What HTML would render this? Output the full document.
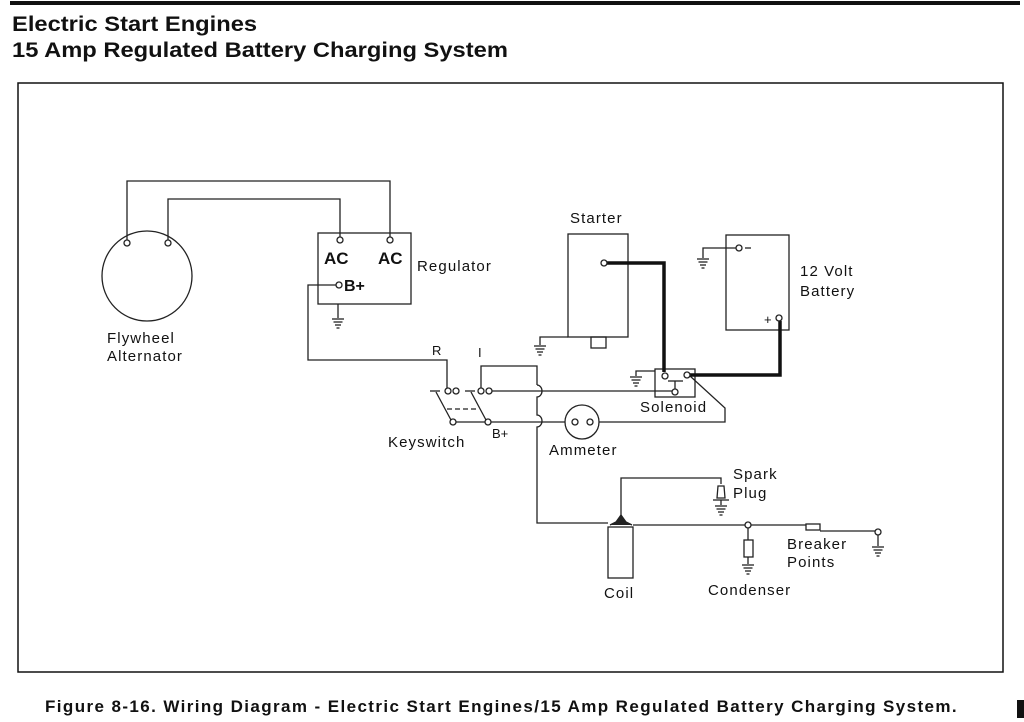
<!DOCTYPE html>
<html><head><meta charset="utf-8"><style>
html,body{margin:0;padding:0;background:#fff;}
svg{display:block;}
text{font-family:"Liberation Sans",sans-serif;fill:#111;}
</style></head><body>
<svg width="1024" height="722" viewBox="0 0 1024 722" xmlns="http://www.w3.org/2000/svg">
<defs>
<g id="gnd" stroke="#222" stroke-width="1.3" fill="none">
<line x1="-6" y1="0" x2="6" y2="0"/><line x1="-4.5" y1="3" x2="4.5" y2="3"/><line x1="-3" y1="6" x2="3" y2="6"/><line x1="-1.5" y1="9" x2="1.5" y2="9"/>
</g>
</defs>
<rect x="10" y="1" width="1010" height="4" fill="#111"/>
<g transform="translate(12,0) scale(1.13,1)">
<text x="0" y="31" font-size="21" font-weight="bold">Electric Start Engines</text>
<text x="0" y="57" font-size="21" font-weight="bold">15 Amp Regulated Battery Charging System</text>
</g>
<rect x="18" y="83" width="985" height="589" fill="none" stroke="#111" stroke-width="1.5"/>
<g stroke="#222" stroke-width="1.3" fill="none">
<circle cx="147" cy="276" r="45"/>
<polyline points="127,240 127,181 390,181 390,237"/>
<polyline points="168,240 168,199 340,199 340,237"/>
<circle cx="127" cy="243" r="3" fill="#fff"/><circle cx="168" cy="243" r="3" fill="#fff"/>
<rect x="318" y="233" width="93" height="71"/>
<circle cx="340" cy="240" r="3" fill="#fff"/><circle cx="390" cy="240" r="3" fill="#fff"/>
<polyline points="336,285 308,285 308,360 447,360 447,388"/>
<circle cx="339" cy="285" r="3" fill="#fff"/>
<line x1="338" y1="304" x2="338" y2="318"/>
<line x1="430" y1="391" x2="440" y2="391"/><line x1="465" y1="391" x2="475" y2="391"/>
<line x1="436" y1="392" x2="451" y2="420"/><line x1="471" y1="392" x2="486" y2="420"/>
<line x1="447" y1="409" x2="479" y2="409" stroke-dasharray="5,3"/>
<circle cx="448" cy="391" r="3" fill="#fff"/><circle cx="456" cy="391" r="3" fill="#fff"/>
<circle cx="481" cy="391" r="3" fill="#fff"/><circle cx="489" cy="391" r="3" fill="#fff"/>
<polyline points="481,388 481,366 537,366 537,385"/>
<path d="M537,385 a5,6 0 0 1 0,12 L537,415 a5,6 0 0 1 0,12 L537,523 L608,523"/>
<line x1="492" y1="391" x2="673" y2="391"/>
<line x1="456" y1="422" x2="485" y2="422"/>
<circle cx="453" cy="422" r="3" fill="#fff"/><circle cx="488" cy="422" r="3" fill="#fff"/>
<line x1="491" y1="422" x2="565" y2="422"/>
<circle cx="582" cy="422" r="17"/>
<circle cx="575" cy="422" r="3" fill="#fff"/><circle cx="590" cy="422" r="3" fill="#fff"/>
<polyline points="599,422 725,422 725,408 690,376"/>
<rect x="568" y="234" width="60" height="103"/>
<rect x="591" y="337" width="15" height="11"/>
<polyline points="568,337 540,337 540,345"/>
<rect x="726" y="235" width="63" height="95"/>
<polyline points="736,248 703,248 703,258"/>
<line x1="745" y1="248" x2="751" y2="248"/>
<rect x="655" y="369" width="40" height="28"/>
<polyline points="655,371 636,371 636,376"/>
<polyline points="668,381 683,381"/><line x1="675" y1="381" x2="675" y2="389"/>
<circle cx="675" cy="392" r="3" fill="#fff"/>
<line x1="633" y1="525" x2="745" y2="525"/>
<line x1="751" y1="525" x2="806" y2="525"/>
<rect x="608" y="527" width="25" height="51"/>
<path d="M610,525 L616,522 L621,515 L626,522 L632,525" fill="#222"/>
<polyline points="621,516 621,478 721,478 721,484"/>
<path d="M717,498 L718,486 L724,486 L725,498 Z"/>
<line x1="713" y1="500" x2="729" y2="500"/><line x1="721" y1="500" x2="721" y2="505"/>
<circle cx="748" cy="525" r="3" fill="#fff"/>
<line x1="748" y1="528" x2="748" y2="540"/>
<rect x="744" y="540" width="9" height="17"/>
<line x1="748" y1="557" x2="748" y2="564"/>
<rect x="806" y="524" width="14" height="6"/>
<line x1="820" y1="531" x2="875" y2="531"/>
<circle cx="878" cy="532" r="3" fill="#fff"/>
<line x1="878" y1="535" x2="878" y2="546"/>
</g>
<g stroke="#111" stroke-width="3.5" fill="none">
<polyline points="607,263 664,263 664,372"/>
<polyline points="690,375 780,375 780,321"/>
</g>
<g stroke="#222" stroke-width="1.3" fill="#fff">
<circle cx="604" cy="263" r="3"/><circle cx="739" cy="248" r="3"/><circle cx="779" cy="318" r="3"/>
<circle cx="665" cy="376" r="3"/><circle cx="687" cy="375" r="3"/>
</g>
<use href="#gnd" x="338" y="319"/><use href="#gnd" x="540" y="346"/><use href="#gnd" x="703" y="259"/>
<use href="#gnd" x="636" y="377"/><use href="#gnd" x="721" y="506"/><use href="#gnd" x="748" y="565"/><use href="#gnd" x="878" y="547"/>
<g font-size="15" letter-spacing="1.1">
<text x="107" y="343">Flywheel</text><text x="107" y="361">Alternator</text>
<text x="417" y="271">Regulator</text>
<text x="570" y="223">Starter</text>
<text x="800" y="276">12 Volt</text><text x="800" y="296">Battery</text>
<text x="640" y="412">Solenoid</text>
<text x="549" y="455">Ammeter</text>
<text x="388" y="447">Keyswitch</text>
<text x="733" y="479">Spark</text><text x="733" y="498">Plug</text>
<text x="787" y="549">Breaker</text><text x="787" y="567">Points</text>
<text x="604" y="598">Coil</text>
<text x="708" y="595">Condenser</text>
</g>
<text x="492" y="438" font-size="13">B+</text>
<text x="432" y="355" font-size="13" font-family="Liberation Serif">R</text>
<text x="478" y="357" font-size="13" font-family="Liberation Serif">I</text>
<text x="324" y="264" font-size="17" font-weight="bold">AC</text>
<text x="378" y="264" font-size="17" font-weight="bold">AC</text>
<text x="344" y="291" font-size="16" font-weight="bold">B+</text>
<text x="764" y="324" font-size="13">+</text>
<text x="45" y="712" font-size="17" font-weight="bold" letter-spacing="1.4">Figure 8-16. Wiring Diagram - Electric Start Engines/15 Amp Regulated Battery Charging System.</text>
<rect x="1017" y="700" width="7" height="18" fill="#111"/>
</svg>
</body></html>
